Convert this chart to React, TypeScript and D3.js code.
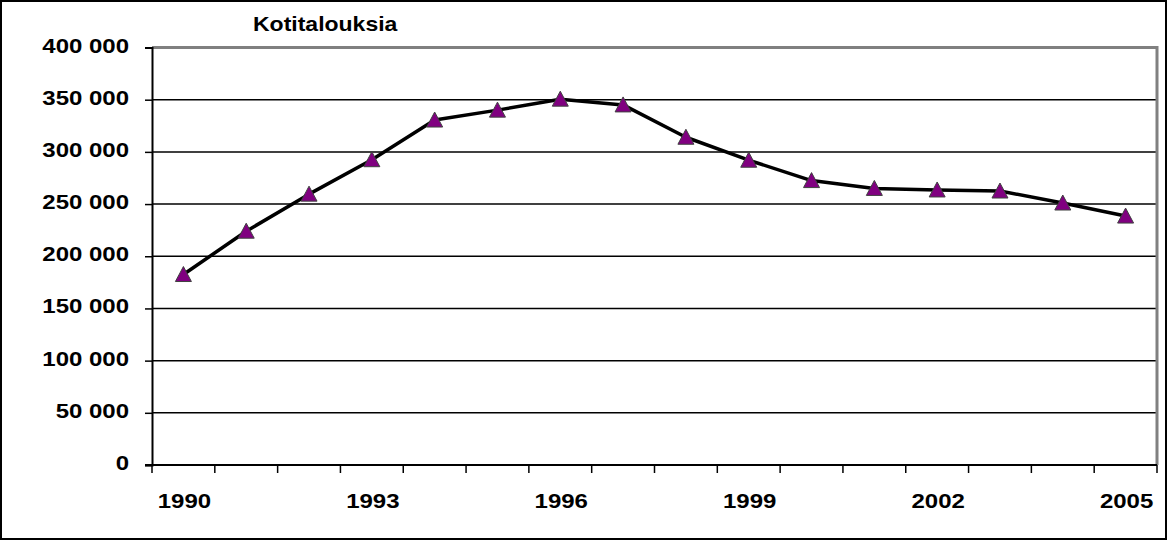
import React, { useEffect, useRef } from 'react';
import * as d3 from 'd3';

const years = ['1990', '1991', '1992', '1993', '1994', '1995', '1996', '1997', '1998', '1999', '2000', '2001', '2002', '2003', '2004', '2005'];
const households = [182500, 224000, 259500, 292500, 330500, 340000, 350500, 345000, 314000, 292000, 272500, 265000, 263500, 262500, 251000, 238500];
const yTicks = [0, 50000, 100000, 150000, 200000, 250000, 300000, 350000, 400000];
const labelledYears = ['1990', '1993', '1996', '1999', '2002', '2005'];
const title = 'Kotitalouksia';

const App: React.FC = () => {
  const svgRef = useRef(null);

  useEffect(() => {
    const width = 1167;
    const height = 540;
    const left = 152;
    const right = 1157;
    const top = 47.5;
    const bottom = 465;
    const font = '"Liberation Sans", Arial, sans-serif';
    const stretch = 1.2; // the original text is drawn a bit wide

    const svg = d3.select(svgRef.current)
      .attr('width', width)
      .attr('height', height)
      .attr('viewBox', [0, 0, width, height]);

    svg.selectAll('*').remove();

    svg.append('rect')
      .attr('x', 1).attr('y', 1)
      .attr('width', width - 2).attr('height', height - 2)
      .attr('fill', 'white')
      .attr('stroke', 'black')
      .attr('stroke-width', 2);

    const x = d3.scaleBand().domain(years).range([left, right]).padding(0);
    const y = d3.scaleLinear().domain([0, 400000]).range([bottom, top]);
    const cx = (d: string) => (x(d) as number) + x.bandwidth() / 2;

    const label = (tx: number, ty: number, s: string, anchor: string, sx = stretch) => {
      svg.append('g')
        .attr('transform', `translate(${tx},${ty}) scale(${sx},1)`)
        .append('text')
        .attr('text-anchor', anchor)
        .attr('font-family', font)
        .attr('font-weight', 'bold')
        .attr('font-size', 20)
        .attr('fill', 'black')
        .text(s);
    };

    // gridlines
    svg.append('g')
      .selectAll('line')
      .data(yTicks.filter(v => v > 0 && v < 400000))
      .enter()
      .append('line')
      .attr('x1', left).attr('x2', right)
      .attr('y1', d => y(d)).attr('y2', d => y(d))
      .attr('stroke', 'black')
      .attr('stroke-width', 1.5);

    // plot frame top/right (gray)
    svg.append('path')
      .attr('d', `M${left},${y(400000)}H${right}V${bottom}`)
      .attr('fill', 'none')
      .attr('stroke', '#808080')
      .attr('stroke-width', 3);

    const fmt = (v: number) => d3.format(',')(v).replace(/,/g, ' ');

    const axisy = svg.append('g')
      .attr('transform', `translate(${left},0)`)
      .call(d3.axisLeft(y).tickValues(yTicks).tickSize(7).tickFormat(() => ''));
    axisy.select('.domain').attr('stroke', 'black').attr('stroke-width', 2);
    axisy.selectAll('line').attr('stroke', 'black').attr('stroke-width', 1.5);
    yTicks.forEach(v => label(129, y(v) + 5, fmt(v), 'end'));

    // x axis: ticks at category boundaries
    const edges = [...years.map(d => x(d) as number), right];
    const axisx = svg.append('g');
    axisx.append('line')
      .attr('x1', left - 7).attr('x2', right)
      .attr('y1', bottom).attr('y2', bottom)
      .attr('stroke', 'black').attr('stroke-width', 2);
    axisx.selectAll('line.tick')
      .data(edges)
      .enter()
      .append('line')
      .attr('class', 'tick')
      .attr('x1', d => d).attr('x2', d => d)
      .attr('y1', bottom).attr('y2', bottom + 8)
      .attr('stroke', 'black').attr('stroke-width', 1.5);
    labelledYears.forEach(d => label(cx(d) + 1, 508, d, 'middle'));

    // line
    const line = d3.line<number>()
      .x((d, i) => cx(years[i]))
      .y(d => y(d));
    svg.append('path')
      .datum(households)
      .attr('d', line)
      .attr('fill', 'none')
      .attr('stroke', 'black')
      .attr('stroke-width', 3.5)
      .attr('stroke-linejoin', 'round');

    // triangle markers
    const s = 8;
    svg.append('g')
      .selectAll('path')
      .data(households)
      .enter()
      .append('path')
      .attr('transform', (d, i) => `translate(${cx(years[i])},${y(d)})`)
      .attr('d', `M0,${-s}L${s},${s - 1}L${-s},${s - 1}Z`)
      .attr('fill', '#800080')
      .attr('stroke', '#404040')
      .attr('stroke-width', 1);

    label(253, 31, title, 'start', 1.15);
  }, []);

  return (
    <svg ref={svgRef} style={{ position: 'absolute', left: 0, top: 0 }}></svg>
  );
};

export default App;
